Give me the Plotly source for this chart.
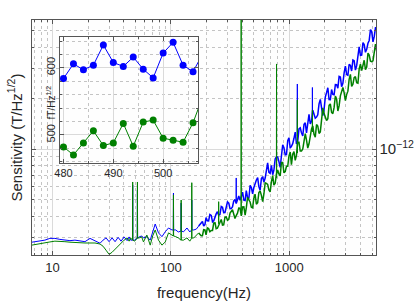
import math
import plotly.graph_objects as go

# ---------------- main spectrum data (frequency in Hz, sensitivity in fT/Hz^1/2) ----------------
low_freq = [6.68, 7.22, 7.80, 8.61, 9.49, 10.46, 11.53, 12.71, 14.02, 15.45, 17.04, 18.78,
            20.71, 22.83, 25.17, 26.69, 28.30, 30.01, 31.82, 33.73, 35.77, 37.92, 40.21, 42.64,
            44.33, 45.64, 49.35, 53.88, 56.6, 58.6, 62.6, 66.8, 70.1, 73.6, 78.5, 83.9, 89.5,
            95.4, 102.0, 109.8, 115.3, 127.9, 136.6, 144.3, 156.1, 163.9, 171.4]
blue_low = [281, 283, 285, 289, 296, 296, 292, 289, 287, 289, 287, 283, 296, 285, 277, 289,
            298, 283, 298, 283, 300, 285, 302, 287, 302, 289, 289, 302, 306, 298, 303, 289,
            323, 360, 319, 303, 324, 341, 332, 332, 323, 324, 341, 323, 332, 336, 350]
green_low = [270, 272, 276, 279, 282, 285, 285, 283, 281, 281, 279, 278, 278, 278, 274, 266,
             252, 238, 245, 256, 266, 278, 289, 298, 285, 298, 285, 298, 302, 282, 310, 270,
             306, 332, 289, 270, 282, 319, 310, 303, 298, 289, 298, 285, 298, 310, 319]

high_freq = [180, 189, 198, 208, 219, 230, 241, 253, 266, 279, 293, 308, 323, 339, 356, 374,
             393, 413, 433, 455, 478, 501, 527, 553, 581, 610, 640, 672, 706, 741, 778, 817,
             858, 901, 946, 993, 1042, 1095, 1149, 1207, 1267, 1331, 1397, 1467, 1540, 1617,
             1698, 1783, 1872, 1966, 2064, 2167, 2276, 2390, 2509, 2634, 2766, 2904, 3050,
             3202, 3362, 3530, 3707, 3892, 4087, 4291, 4506, 4731, 4968, 5216, 5477]
blue_high = [367, 350, 393, 375, 405, 376, 413, 406, 457, 420,
             448, 478, 444, 492, 476, 528, 520, 498, 568, 508,
             591, 590, 656, 599, 668, 637, 750, 728, 799, 749,
             899, 842, 909, 1019, 926, 1166, 1036, 1157, 1073, 1315,
             1249, 1401, 1243, 1602, 1457, 1626, 1544, 1848, 1755, 1712,
             2154, 1960, 2247, 2092, 2398, 2689, 2337, 2816, 2755, 3171,
             2894, 3331, 3111, 4019, 3594, 4147, 3884, 4386, 4949, 4620,
             5214]
green_high = [307, 333, 311, 338, 330, 365, 338, 355, 383, 356,
              397, 384, 427, 413, 404, 447, 402, 455, 448, 500,
              452, 511, 472, 552, 532, 542, 626, 573, 641, 611,
              708, 711, 832, 723, 791, 908, 807, 965, 916, 1097,
              972, 1111, 1130, 1073, 1315, 1220, 1394, 1236, 1479, 1620,
              1472, 1811, 1646, 1762, 1974, 1797, 2207, 2153, 2098, 2581,
              2347, 2641, 2467, 2973, 2910, 3349, 3056, 3598, 3284, 3869,
              3780]

# in-between bins of the noisy high-frequency part
mid_freq = [184.5, 193.7, 203, 213.2, 224.5, 235.8, 247, 259.3, 272.6, 286,
            300.3, 315.7, 331, 347.5, 364.9, 383.4, 402.8, 423.3, 443.8, 466.4,
            490, 513.5, 540.2, 566.8, 595.5, 625.3, 656, 688.8, 723.7, 759.5,
            797.5, 837.4, 879.5, 923.5, 969.7, 1018, 1068, 1122, 1178, 1237,
            1299, 1364, 1432, 1504, 1579, 1657, 1740, 1828, 1919, 2015,
            2116, 2221, 2333, 2450, 2572, 2700, 2835, 2977, 3126, 3282,
            3446, 3618, 3800, 3989, 4189, 4398, 4619, 4849, 5092, 5346]
blue_mid = [373, 357, 376, 410, 371, 402, 426, 410, 452, 421,
            486, 443, 454, 503, 512, 498, 555, 496, 516, 610,
            543, 635, 678, 570, 685, 673, 828, 718, 704, 873,
            897, 779, 1060, 924, 1119, 1013, 1075, 1260, 1110, 1333,
            1193, 1428, 1437, 1407, 1696, 1522, 1594, 1964, 1577, 2030,
            2304, 1956, 2104, 2402, 2289, 2664, 2448, 3092, 2726, 3123,
            3362, 2931, 3708, 3578, 4258, 3734, 4218, 5088, 4306, 5212]
green_mid = [307, 332, 341, 324, 330, 366, 340, 376, 355, 395,
             379, 418, 437, 388, 417, 446, 454, 406, 517, 486,
             448, 541, 481, 564, 489, 631, 617, 558, 695, 627,
             752, 694, 832, 734, 790, 960, 930, 856, 1097, 972,
             1000, 1233, 1013, 1206, 1369, 1176, 1368, 1262, 1751, 1515,
             1510, 1849, 1619, 2055, 1678, 2062, 2311, 1934, 2199, 2760,
             2419, 2682, 2448, 3177, 3192, 2946, 3693, 3303, 3326, 4169]

# narrow line peaks: frequency, peak value, local floor value
blue_spike_freq = [47.5, 52.1, 105, 122, 150, 356, 1169, 1567]
blue_spike_peak = [612, 572, 549, 479, 499, 674, 2424, 2311]
blue_spike_base = [289, 297, 332, 327, 332, 481, 1196, 1546]
green_spike_freq = [47.5, 52.1, 105, 122, 150, 253, 392, 780, 1169, 1567]
green_spike_peak = [638, 638, 535, 499, 632, 488, 6500, 3184, 1950, 1701]
green_spike_base = [289, 297, 306, 289, 297, 361, 421, 676, 946, 1261]

# ---------------- inset data (fT/Hz^1/2) ----------------
inset_freq = [480, 482, 484, 486, 488, 490, 492, 494, 496, 498, 500, 502, 504, 506, 508]
inset_blue = [584, 606, 597, 604, 634, 608, 602, 616, 598, 585, 622, 638, 604, 594, 622]
inset_green = [482, 470, 488, 506, 484, 488, 517, 483, 519, 522, 495, 492, 489, 518, 558]

SPLIT = 175  # Hz: below -> smooth part, above -> dense noisy part


def smooth_part(freqs, vals, sf, sp, sb):
    """Low-frequency curve with its line peaks, then the isolated high-frequency peaks."""
    pts = list(zip(freqs, vals))
    for f, p, b in zip(sf, sp, sb):
        if f < SPLIT:
            pts += [(f * 0.997, b), (f, p), (f * 1.003, b)]
    pts.sort()
    xs = [p[0] for p in pts]
    ys = [p[1] * 1e-15 for p in pts]
    for f, p, b in zip(sf, sp, sb):
        if f >= SPLIT:
            xs += [None, f * 0.997, f, f * 1.003]
            ys += [None, b * 1e-15, p * 1e-15, b * 1e-15]
    return xs, ys


def noisy_part(f_last, v_last, freqs, vals):
    pts = sorted([(f_last, v_last)] + list(zip(freqs, vals)))
    return [p[0] for p in pts], [p[1] * 1e-15 for p in pts]


b_lx, b_ly = smooth_part(low_freq, blue_low, blue_spike_freq, blue_spike_peak, blue_spike_base)
g_lx, g_ly = smooth_part(low_freq, green_low, green_spike_freq, green_spike_peak, green_spike_base)
b_hx, b_hy = noisy_part(low_freq[-1], blue_low[-1], high_freq + mid_freq, blue_high + blue_mid)
g_hx, g_hy = noisy_part(low_freq[-1], green_low[-1], high_freq + mid_freq, green_high + green_mid)

BLUE = "#0000ff"
GREEN = "#008000"
TXT = "#262626"
AX = "#555555"
GRID = "#dadada"
MGRID = "#c4c4c4"
FONT = "Liberation Sans, Arial, Helvetica, sans-serif"

fig = go.Figure()
fig.add_trace(go.Scatter(x=b_hx, y=b_hy, mode="lines", line=dict(color=BLUE, width=1.5),
                         xaxis="x", yaxis="y", showlegend=False))
fig.add_trace(go.Scatter(x=b_lx, y=b_ly, mode="lines", line=dict(color=BLUE, width=1),
                         xaxis="x", yaxis="y", showlegend=False, connectgaps=False))
fig.add_trace(go.Scatter(x=g_hx, y=g_hy, mode="lines", line=dict(color=GREEN, width=1.5),
                         xaxis="x", yaxis="y", showlegend=False))
fig.add_trace(go.Scatter(x=g_lx, y=g_ly, mode="lines", line=dict(color=GREEN, width=1),
                         xaxis="x", yaxis="y", showlegend=False, connectgaps=False))
fig.add_trace(go.Scatter(x=inset_freq, y=inset_blue, mode="lines+markers",
                         line=dict(color=BLUE, width=1), marker=dict(color=BLUE, size=7),
                         xaxis="x2", yaxis="y2", showlegend=False))
fig.add_trace(go.Scatter(x=inset_freq, y=inset_green, mode="lines+markers",
                         line=dict(color=GREEN, width=1), marker=dict(color=GREEN, size=7),
                         xaxis="x2", yaxis="y2", showlegend=False))

common = dict(showline=True, linecolor=AX, linewidth=1, mirror="allticks",
              ticks="inside", ticklen=4, tickcolor=AX, showgrid=True, gridcolor=GRID,
              gridwidth=1, zeroline=False, automargin=False)

fig.update_layout(
    template="none",
    width=416, height=303,
    margin=dict(l=32, r=40, t=20, b=48),
    paper_bgcolor="#ffffff", plot_bgcolor="#fefefe",
    font=dict(family=FONT, color=TXT),
    showlegend=False,
    xaxis=dict(type="log", range=[math.log10(6.7), math.log10(5400)], dtick=1,
               tickfont=dict(size=13, color=TXT),
               title=dict(text="frequency(Hz)", font=dict(size=15, color=TXT), standoff=13),
               minor=dict(ticks="inside", ticklen=2, tickcolor=AX, showgrid=True,
                          griddash="dot", gridcolor=MGRID, dtick="D1"),
               **common),
    yaxis=dict(type="log", range=[-12.627, -11.237], dtick=1, side="right",
               exponentformat="power", showexponent="all",
               tickfont=dict(size=12, color=TXT),
               minor=dict(ticks="inside", ticklen=2, tickcolor=AX, showgrid=True,
                          griddash="dot", gridcolor=MGRID, dtick="D1"),
               **common),
    xaxis2=dict(domain=[0.0814, 0.4826], anchor="y2", range=[479.3, 507], dtick=10,
                tick0=480, tickfont=dict(size=11, color=TXT),
                minor=dict(dtick=5, showgrid=True, griddash="dot", gridcolor=MGRID,
                           ticks="inside", ticklen=2, tickcolor=AX),
                **common),
    yaxis2=dict(domain=[0.3915, 0.9277], anchor="x2", range=[458, 646], dtick=100,
                tick0=0, tickangle=-90, tickfont=dict(size=11, color=TXT),
                minor=dict(dtick=20, showgrid=True, griddash="dot", gridcolor=MGRID,
                           ticks="inside", ticklen=2, tickcolor=AX),
                **common),
    annotations=[
        dict(text="Sensitivity (T/Hz<sup>1/2</sup>)", xref="paper", yref="paper",
             x=-0.0494, y=0.5, xanchor="center", yanchor="middle", textangle=-90,
             showarrow=False, font=dict(size=15, color=TXT)),
        dict(text="fT/Hz<sup>1/2</sup>", xref="paper", yref="paper",
             x=0.0544, y=0.648, xanchor="center", yanchor="middle", textangle=-90,
             showarrow=False, font=dict(size=10, color=TXT)),
    ],
)

fig.write_html("out.html",
               config={"displayModeBar": False},
               post_script="document.body.style.margin='0';"
                           "document.body.style.padding='0';"
                           "document.body.style.overflow='hidden';")
